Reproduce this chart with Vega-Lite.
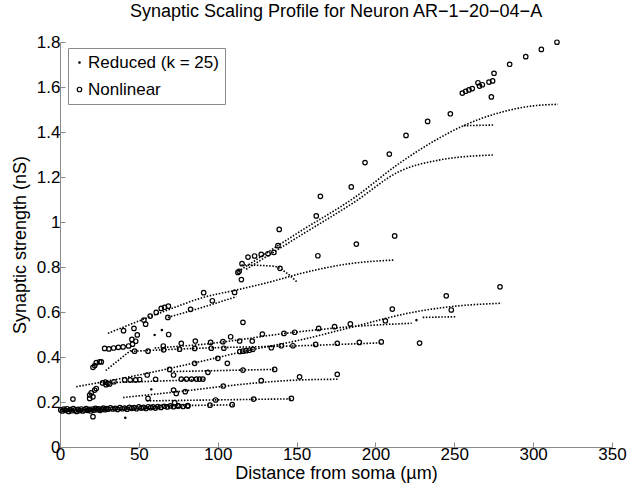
{
  "$schema": "https://vega.github.io/schema/vega-lite/v6.json",
  "width": 552,
  "height": 405,
  "autosize": "none",
  "padding": {"left": 60, "top": 42, "right": 25, "bottom": 49},
  "background": "white",
  "config": {
    "view": {"stroke": null},
    "font": "Liberation Sans",
    "axis": {"grid": false, "domainColor": "#8a8a8a", "tickColor": "#8a8a8a", "labelColor": "black", "titleColor": "black", "labelFont": "Liberation Sans", "titleFont": "Liberation Sans", "labelFontSize": 17, "titleFontSize": 18, "titleFontWeight": "normal", "labelFlush": false, "labelOverlap": false, "tickSize": -5}
  },
  "title": {"text": "Synaptic Scaling Profile for Neuron AR−1−20−04−A", "fontSize": 18, "fontWeight": "normal", "font": "Liberation Sans", "color": "black", "offset": 12, "anchor": "middle"},
  "datasets": {
    "nonlinear": [
      {"x": 315.1, "y": 1.799}, {"x": 305.2, "y": 1.767}, {"x": 295.3, "y": 1.735}, {"x": 285.1, "y": 1.701}, {"x": 275.2, "y": 1.661}, {"x": 274.3, "y": 1.627}, {"x": 272.0, "y": 1.622}, {"x": 273.5, "y": 1.556}, {"x": 267.8, "y": 1.610}, {"x": 265.0, "y": 1.619}, {"x": 266.0, "y": 1.604}, {"x": 261.4, "y": 1.593}, {"x": 259.3, "y": 1.587}, {"x": 257.2, "y": 1.581}, {"x": 255.1, "y": 1.573}, {"x": 247.5, "y": 1.481}, {"x": 233.1, "y": 1.447}, {"x": 219.4, "y": 1.385}, {"x": 208.8, "y": 1.302}, {"x": 193.4, "y": 1.264}, {"x": 184.7, "y": 1.156}, {"x": 165.1, "y": 1.114}, {"x": 162.5, "y": 1.027}, {"x": 163.5, "y": 0.850}, {"x": 187.9, "y": 0.902}, {"x": 212.2, "y": 0.938}, {"x": 279.0, "y": 0.712},
      {"x": 139.0, "y": 0.967}, {"x": 138.2, "y": 0.895}, {"x": 135.6, "y": 0.865}, {"x": 131.9, "y": 0.859}, {"x": 127.6, "y": 0.856}, {"x": 123.4, "y": 0.849}, {"x": 119.2, "y": 0.844}, {"x": 115.4, "y": 0.815}, {"x": 112.8, "y": 0.776}, {"x": 113.6, "y": 0.781}, {"x": 115.0, "y": 0.744}, {"x": 139.5, "y": 0.794},
      {"x": 91.1, "y": 0.686}, {"x": 110.7, "y": 0.687}, {"x": 96.6, "y": 0.650}, {"x": 82.8, "y": 0.612}, {"x": 68.7, "y": 0.626}, {"x": 66.3, "y": 0.621}, {"x": 64.2, "y": 0.616}, {"x": 61.0, "y": 0.598}, {"x": 57.2, "y": 0.582}, {"x": 53.2, "y": 0.564}, {"x": 54.3, "y": 0.546}, {"x": 68.4, "y": 0.576}, {"x": 46.9, "y": 0.527}, {"x": 49.0, "y": 0.498}, {"x": 45.6, "y": 0.478}, {"x": 40.3, "y": 0.517}, {"x": 68.9, "y": 0.500}, {"x": 116.0, "y": 0.554}, {"x": 108.2, "y": 0.490},
      {"x": 28.3, "y": 0.438}, {"x": 31.0, "y": 0.436}, {"x": 34.0, "y": 0.440}, {"x": 37.0, "y": 0.443}, {"x": 40.0, "y": 0.445}, {"x": 43.5, "y": 0.449}, {"x": 46.0, "y": 0.457}, {"x": 48.0, "y": 0.470},
      {"x": 20.9, "y": 0.354}, {"x": 23.0, "y": 0.375}, {"x": 25.1, "y": 0.379}, {"x": 26.2, "y": 0.378}, {"x": 22.0, "y": 0.362},
      {"x": 55.8, "y": 0.426}, {"x": 47.3, "y": 0.426}, {"x": 65.5, "y": 0.449}, {"x": 65.7, "y": 0.432}, {"x": 76.9, "y": 0.461}, {"x": 75.8, "y": 0.435}, {"x": 85.8, "y": 0.471}, {"x": 85.4, "y": 0.438}, {"x": 95.5, "y": 0.465}, {"x": 95.9, "y": 0.439}, {"x": 103.3, "y": 0.468}, {"x": 103.9, "y": 0.439}, {"x": 113.9, "y": 0.471}, {"x": 121.9, "y": 0.471}, {"x": 114.0, "y": 0.424}, {"x": 116.0, "y": 0.426}, {"x": 118.0, "y": 0.428}, {"x": 120.0, "y": 0.430}, {"x": 122.3, "y": 0.434}, {"x": 128.3, "y": 0.502}, {"x": 134.0, "y": 0.441}, {"x": 140.3, "y": 0.450}, {"x": 142.0, "y": 0.505}, {"x": 147.7, "y": 0.450}, {"x": 148.8, "y": 0.510}, {"x": 162.1, "y": 0.456}, {"x": 164.0, "y": 0.527}, {"x": 174.1, "y": 0.535}, {"x": 175.8, "y": 0.461}, {"x": 184.1, "y": 0.547}, {"x": 189.8, "y": 0.465}, {"x": 203.7, "y": 0.467}, {"x": 206.3, "y": 0.561}, {"x": 210.7, "y": 0.613}, {"x": 228.0, "y": 0.462}, {"x": 244.9, "y": 0.672}, {"x": 248.1, "y": 0.609},
      {"x": 100.1, "y": 0.394}, {"x": 85.4, "y": 0.372}, {"x": 106.1, "y": 0.372}, {"x": 116.0, "y": 0.342}, {"x": 93.8, "y": 0.332}, {"x": 136.1, "y": 0.345}, {"x": 69.5, "y": 0.345}, {"x": 72.0, "y": 0.320},
      {"x": 76.9, "y": 0.302}, {"x": 80.2, "y": 0.302}, {"x": 83.4, "y": 0.302}, {"x": 86.5, "y": 0.302}, {"x": 88.5, "y": 0.302}, {"x": 90.6, "y": 0.302}, {"x": 60.6, "y": 0.301}, {"x": 55.3, "y": 0.320}, {"x": 50.5, "y": 0.300}, {"x": 48.0, "y": 0.298}, {"x": 44.5, "y": 0.298}, {"x": 41.0, "y": 0.298}, {"x": 34.2, "y": 0.290}, {"x": 27.0, "y": 0.285}, {"x": 28.8, "y": 0.288}, {"x": 30.4, "y": 0.283}, {"x": 29.2, "y": 0.277}, {"x": 31.5, "y": 0.280}, {"x": 127.6, "y": 0.295}, {"x": 151.9, "y": 0.312}, {"x": 175.8, "y": 0.323}, {"x": 103.5, "y": 0.271}, {"x": 79.4, "y": 0.246}, {"x": 72.0, "y": 0.253}, {"x": 73.7, "y": 0.238},
      {"x": 55.8, "y": 0.216}, {"x": 98.7, "y": 0.209}, {"x": 122.8, "y": 0.213}, {"x": 146.7, "y": 0.216}, {"x": 72.7, "y": 0.197}, {"x": 95.1, "y": 0.186}, {"x": 109.2, "y": 0.188}, {"x": 81.1, "y": 0.182}, {"x": 74.8, "y": 0.182}, {"x": 8.2, "y": 0.213},
      {"x": 18.8, "y": 0.231}, {"x": 19.8, "y": 0.241}, {"x": 22.0, "y": 0.253}, {"x": 23.0, "y": 0.260}, {"x": 20.9, "y": 0.223}, {"x": 18.8, "y": 0.216}, {"x": 20.9, "y": 0.135},
      {"x": 0.5, "y": 0.165}, {"x": 1.5, "y": 0.160}, {"x": 2.5, "y": 0.168}, {"x": 3.5, "y": 0.163}, {"x": 4.5, "y": 0.170}, {"x": 5.5, "y": 0.158}, {"x": 6.5, "y": 0.166}, {"x": 7.5, "y": 0.161}, {"x": 8.5, "y": 0.171}, {"x": 9.5, "y": 0.164}, {"x": 10.5, "y": 0.158}, {"x": 11.5, "y": 0.167}, {"x": 12.5, "y": 0.162}, {"x": 13.5, "y": 0.169}, {"x": 14.5, "y": 0.160}, {"x": 15.5, "y": 0.165}, {"x": 16.5, "y": 0.171}, {"x": 17.5, "y": 0.163}, {"x": 18.5, "y": 0.167}, {"x": 19.5, "y": 0.160}, {"x": 20.5, "y": 0.169}, {"x": 21.5, "y": 0.164}, {"x": 22.5, "y": 0.172}, {"x": 23.5, "y": 0.166}, {"x": 24.5, "y": 0.170}, {"x": 25.5, "y": 0.163}, {"x": 26.5, "y": 0.168}, {"x": 27.5, "y": 0.173}, {"x": 28.5, "y": 0.166}, {"x": 29.5, "y": 0.171}, {"x": 30.5, "y": 0.168}, {"x": 32.0, "y": 0.174}, {"x": 33.5, "y": 0.169}, {"x": 35.0, "y": 0.172}, {"x": 36.5, "y": 0.167}, {"x": 38.0, "y": 0.175}, {"x": 39.5, "y": 0.170}, {"x": 41.0, "y": 0.173}, {"x": 42.5, "y": 0.168}, {"x": 44.0, "y": 0.176}, {"x": 45.5, "y": 0.172}, {"x": 47.0, "y": 0.175}, {"x": 48.5, "y": 0.170}, {"x": 50.0, "y": 0.178}, {"x": 51.5, "y": 0.173}, {"x": 53.0, "y": 0.176}, {"x": 54.5, "y": 0.171}, {"x": 56.0, "y": 0.179}, {"x": 57.5, "y": 0.175}, {"x": 59.0, "y": 0.178}, {"x": 60.5, "y": 0.173}, {"x": 62.0, "y": 0.180}, {"x": 64.0, "y": 0.176}, {"x": 66.0, "y": 0.181}, {"x": 68.0, "y": 0.178}, {"x": 70.0, "y": 0.183}, {"x": 72.0, "y": 0.179}, {"x": 75.0, "y": 0.183}, {"x": 78.0, "y": 0.180}, {"x": 81.0, "y": 0.184}
    ],
    "reducedLines": [
      {"b": "D1", "x": 30.4, "y": 0.505}, {"b": "D1", "x": 50, "y": 0.56}, {"b": "D1", "x": 68.7, "y": 0.61}, {"b": "D1", "x": 91, "y": 0.665}, {"b": "D1", "x": 112, "y": 0.698}, {"b": "D1", "x": 134, "y": 0.735}, {"b": "D1", "x": 152, "y": 0.77}, {"b": "D1", "x": 184, "y": 0.815}, {"b": "D1", "x": 212, "y": 0.831},
      {"b": "D2", "x": 68.4, "y": 0.576}, {"b": "D2", "x": 90, "y": 0.62}, {"b": "D2", "x": 111.8, "y": 0.668},
      {"b": "D3", "x": 113, "y": 0.78}, {"b": "D3", "x": 152, "y": 0.957}, {"b": "D3", "x": 187, "y": 1.11}, {"b": "D3", "x": 215, "y": 1.26}, {"b": "D3", "x": 236.5, "y": 1.357}, {"b": "D3", "x": 255.5, "y": 1.427}, {"b": "D3", "x": 278.8, "y": 1.486}, {"b": "D3", "x": 299.9, "y": 1.516}, {"b": "D3", "x": 315.7, "y": 1.523},
      {"b": "D4", "x": 118, "y": 0.79}, {"b": "D4", "x": 152, "y": 0.938}, {"b": "D4", "x": 187, "y": 1.09}, {"b": "D4", "x": 215, "y": 1.224}, {"b": "D4", "x": 241, "y": 1.276}, {"b": "D4", "x": 274.6, "y": 1.298},
      {"b": "D5", "x": 256, "y": 1.428}, {"b": "D5", "x": 275, "y": 1.431},
      {"b": "D6", "x": 115, "y": 0.809}, {"b": "D6", "x": 135, "y": 0.804}, {"b": "D6", "x": 144, "y": 0.772}, {"b": "D6", "x": 150, "y": 0.735},
      {"b": "D8", "x": 45, "y": 0.425}, {"b": "D8", "x": 88.5, "y": 0.439}, {"b": "D8", "x": 152, "y": 0.45}, {"b": "D8", "x": 203.7, "y": 0.463},
      {"b": "D9", "x": 10.3, "y": 0.268}, {"b": "D9", "x": 50, "y": 0.32}, {"b": "D9", "x": 88.5, "y": 0.379}, {"b": "D9", "x": 120, "y": 0.43}, {"b": "D9", "x": 152, "y": 0.475}, {"b": "D9", "x": 183.6, "y": 0.53}, {"b": "D9", "x": 224, "y": 0.599}, {"b": "D9", "x": 248, "y": 0.624}, {"b": "D9", "x": 280, "y": 0.639},
      {"b": "D10", "x": 60, "y": 0.44}, {"b": "D10", "x": 88.5, "y": 0.455}, {"b": "D10", "x": 148.8, "y": 0.51}, {"b": "D10", "x": 185, "y": 0.535}, {"b": "D10", "x": 223, "y": 0.55},
      {"b": "D12", "x": 230, "y": 0.576}, {"b": "D12", "x": 251, "y": 0.579},
      {"b": "D13", "x": 70, "y": 0.335}, {"b": "D13", "x": 136, "y": 0.345},
      {"b": "D14", "x": 40, "y": 0.22}, {"b": "D14", "x": 80, "y": 0.25}, {"b": "D14", "x": 104, "y": 0.27}, {"b": "D14", "x": 128, "y": 0.287}, {"b": "D14", "x": 152, "y": 0.298}, {"b": "D14", "x": 176, "y": 0.301},
      {"b": "D11", "x": 28, "y": 0.285}, {"b": "D11", "x": 92, "y": 0.3},
      {"b": "D15", "x": 55, "y": 0.205}, {"b": "D15", "x": 147, "y": 0.214},
      {"b": "D16", "x": 60, "y": 0.183}, {"b": "D16", "x": 110, "y": 0.187},
      {"b": "D17", "x": 0, "y": 0.163}, {"b": "D17", "x": 40, "y": 0.168}, {"b": "D17", "x": 80, "y": 0.178},
      {"b": "D18", "x": 29, "y": 0.34}, {"b": "D18", "x": 45, "y": 0.43}
    ],
    "reducedDots": [
      {"x": 41.4, "y": 0.13}, {"x": 60, "y": 0.498}, {"x": 64.6, "y": 0.52}, {"x": 226, "y": 0.564}, {"x": 57.9, "y": 0.256}
    ]
  },
  "encoding": {
    "x": {"field": "x", "type": "quantitative", "scale": {"domain": [0, 350], "nice": false}, "axis": {"values": [0, 50, 100, 150, 200, 250, 300, 350], "title": "Distance from soma (µm)", "labelPadding": 4, "titlePadding": 2}},
    "y": {"field": "y", "type": "quantitative", "scale": {"domain": [0, 1.8], "nice": false}, "axis": {"values": [0, 0.2, 0.4, 0.6, 0.8, 1, 1.2, 1.4, 1.6, 1.8], "format": "~g", "title": "Synaptic strength (nS)", "labelPadding": 5, "titlePadding": 7}}
  },
  "layer": [
    {
      "data": {"name": "reducedLines"},
      "mark": {"type": "line", "stroke": "black", "strokeWidth": 1.6, "strokeDash": [1.5, 1.6], "strokeCap": "butt", "interpolate": "monotone"},
      "encoding": {"detail": {"field": "b", "type": "nominal"}}
    },
    {
      "data": {"name": "nonlinear"},
      "mark": {"type": "point", "filled": false, "stroke": "black", "strokeWidth": 1.2, "opacity": 1},
      "encoding": {
        "size": {"datum": "Nonlinear", "type": "nominal", "scale": {"domain": ["Reduced (k = 25)", "Nonlinear"], "range": [2, 20]},
          "legend": {"title": null, "orient": "none", "legendX": 8, "legendY": 6, "direction": "vertical", "strokeColor": "#8a8a8a", "fillColor": "white", "padding": 6, "labelFontSize": 17, "labelFont": "Liberation Sans", "labelColor": "black", "rowPadding": 9, "symbolStrokeColor": "black", "symbolStrokeWidth": 1.2, "symbolOffset": -3, "labelOffset": 0}}
      }
    },
    {
      "data": {"name": "reducedDots"},
      "mark": {"type": "point", "filled": false, "stroke": "black", "strokeWidth": 1.2, "opacity": 1},
      "encoding": {"size": {"datum": "Reduced (k = 25)", "type": "nominal"}}
    }
  ]
}
